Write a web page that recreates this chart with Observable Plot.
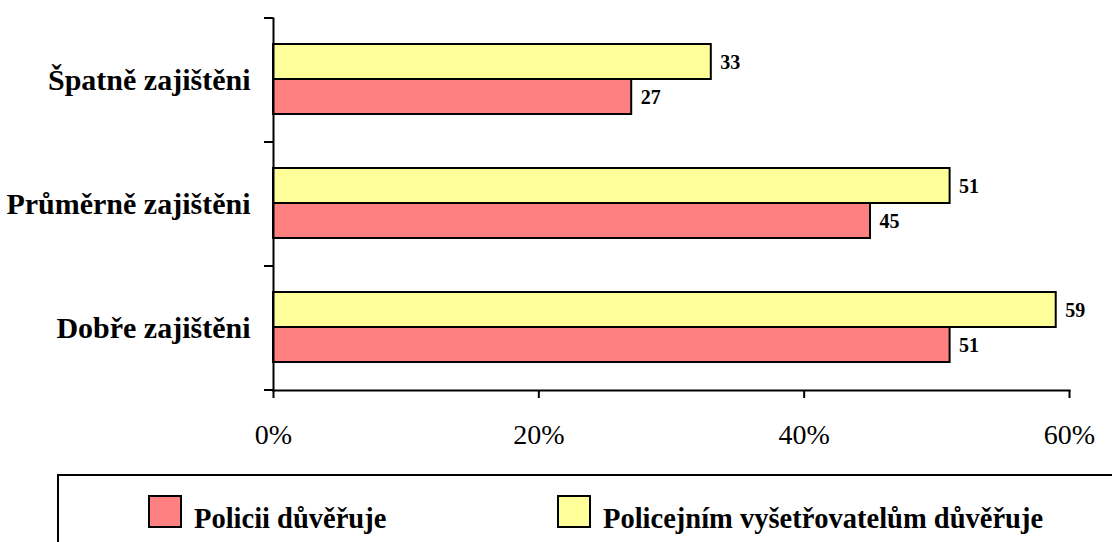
<!DOCTYPE html>
<html>
<head>
<meta charset="utf-8">
<script src="https://cdn.jsdelivr.net/npm/d3@7"></script>
<script src="https://cdn.jsdelivr.net/npm/@observablehq/plot@0.6"></script>
<style>
  html, body { margin: 0; padding: 0; background: #fff; overflow: hidden; }
  body { width: 1112px; height: 542px; position: relative; font-family: "Liberation Serif", "Times New Roman", serif; }
  #chart { position: absolute; left: 0; top: 0; }
  #legend { position: absolute; left: 57px; top: 474px; width: 1100px; height: 120px; border: 2px solid #000; box-sizing: border-box; }
  .sw { position: absolute; width: 34px; height: 33px; border: 2px solid #000; box-sizing: border-box; top: 495px; }
  .lt { position: absolute; top: 504px; font-weight: bold; font-size: 28.5px; line-height: 29px; white-space: nowrap; color: #000; }
</style>
</head>
<body>
<div id="chart"></div>
<div id="legend"></div>
<div class="sw" id="sw0"></div><div class="lt" id="lt0"></div>
<div class="sw" id="sw1"></div><div class="lt" id="lt1"></div>
<script>
// Data
const categories = ["Špatně zajištěni", "Průměrně zajištěni", "Dobře zajištěni"];
const seriesNames = ["Policii důvěřuje", "Policejním vyšetřovatelům důvěřuje"];
const policie = [27, 45, 51];
const vysetrovatele = [33, 51, 59];
const xTicks = [0, 20, 40, 60];
const colors = ["#FF8080", "#FFFF99"];

const rows = categories.map((c, i) => ({cat: c, policie: policie[i], vys: vysetrovatele[i]}));

function bandTicks(index, scales, values, dimensions) {
  const y = scales.y;
  const inner = dimensions.height - dimensions.marginTop - dimensions.marginBottom;
  let bw = inner / categories.length;
  if (scales.scales && scales.scales.y && scales.scales.y.bandwidth) bw = scales.scales.y.bandwidth;
  const edges = categories.map(c => y(c));
  edges.push(y(categories[categories.length - 1]) + bw);
  const ns = "http://www.w3.org/2000/svg";
  const g = document.createElementNS(ns, "g");
  for (const e of edges) {
    const l = document.createElementNS(ns, "line");
    l.setAttribute("x1", dimensions.marginLeft - 9);
    l.setAttribute("x2", dimensions.marginLeft);
    l.setAttribute("y1", e);
    l.setAttribute("y2", e);
    l.setAttribute("stroke", "#000");
    l.setAttribute("stroke-width", 2);
    g.appendChild(l);
  }
  return g;
}

const chart = Plot.plot({
  width: 1112,
  height: 470,
  marginLeft: 273,
  marginRight: 43,
  marginTop: 18,
  marginBottom: 80,
  style: {fontFamily: '"Liberation Serif", "Times New Roman", serif', color: "#000", background: "#fff", overflow: "visible"},
  x: {domain: [0, 60], axis: null},
  y: {domain: categories, padding: 0, axis: null},
  marks: [
    Plot.barX(rows, {y: "cat", x: "vys", fill: colors[1], stroke: "#000", strokeWidth: 2, insetTop: 26, insetBottom: 63}),
    Plot.barX(rows, {y: "cat", x: "policie", fill: colors[0], stroke: "#000", strokeWidth: 2, insetTop: 61, insetBottom: 28}),
    Plot.text(rows, {y: "cat", x: "vys", text: d => String(d.vys), dx: 9, dy: -18, textAnchor: "start", fontWeight: "bold", fontSize: 20}),
    Plot.text(rows, {y: "cat", x: "policie", text: d => String(d.policie), dx: 9, dy: 17, textAnchor: "start", fontWeight: "bold", fontSize: 20}),
    Plot.frame({anchor: "left", stroke: "#000", strokeWidth: 2}),
    Plot.frame({anchor: "bottom", stroke: "#000", strokeWidth: 2}),
    bandTicks,
    Plot.axisY({anchor: "left", tickSize: 0, tickPadding: 23, fontSize: 30, fontWeight: "bold", label: null}),
    Plot.axisX({anchor: "bottom", ticks: xTicks, tickFormat: d => d + "%", tickSize: 8, tickPadding: 26, fontSize: 28, strokeWidth: 2, label: null})
  ]
});
document.getElementById("chart").appendChild(chart);

// Legend
const swLeft = [148, 557];
const ltLeft = [194, 603];
[0, 1].forEach(i => {
  const sw = document.getElementById("sw" + i);
  sw.style.left = swLeft[i] + "px";
  sw.style.background = colors[i];
  const lt = document.getElementById("lt" + i);
  lt.style.left = ltLeft[i] + "px";
  lt.textContent = seriesNames[i];
});
</script>
</body>
</html>
